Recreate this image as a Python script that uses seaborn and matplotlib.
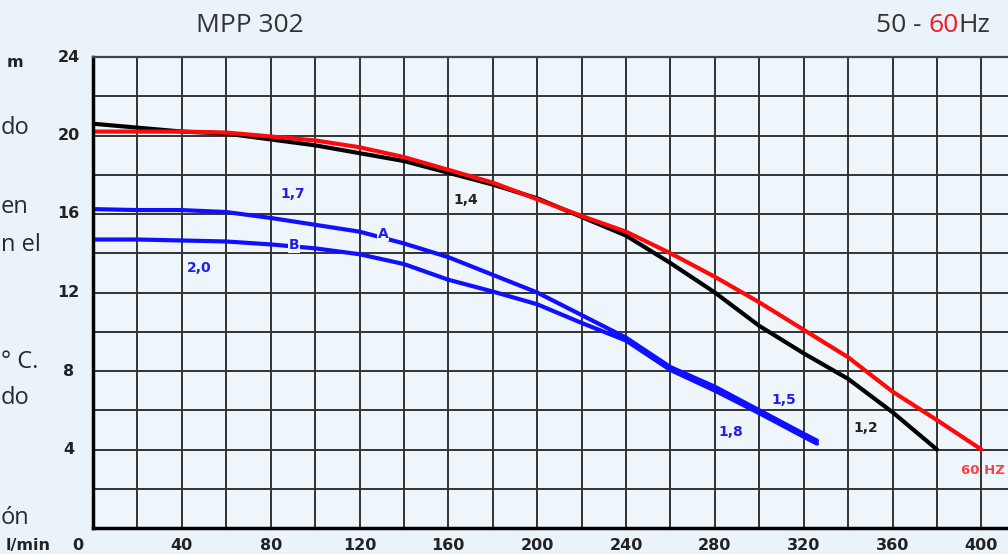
import matplotlib
matplotlib.use("Agg")
import matplotlib.pyplot as plt
import pandas as pd
import seaborn as sns

# Pump curve MPP 302, flow in l/min, head in m
q_50 = [0, 20, 40, 60, 80, 100, 120, 140, 160, 180, 200, 220, 240, 260, 280, 300, 320, 340, 360, 380]
h_50 = [20.6, 20.4, 20.2, 20.1, 19.8, 19.5, 19.1, 18.7, 18.1, 17.5, 16.8, 15.85, 14.9, 13.5, 12.0, 10.3, 8.9, 7.6, 5.9, 4.0]

q_60 = [0, 20, 40, 60, 80, 100, 120, 140, 160, 180, 200, 220, 240, 260, 280, 300, 320, 340, 360, 380, 400]
h_60 = [20.2, 20.2, 20.2, 20.15, 19.95, 19.75, 19.4, 18.9, 18.25, 17.6, 16.75, 15.9, 15.1, 14.0, 12.8, 11.5, 10.1, 8.7, 6.95, 5.5, 4.0]

q_a = [0, 20, 40, 60, 80, 100, 120, 140, 160, 180, 200, 220, 240, 260, 280, 300, 320, 326]
h_a = [16.25, 16.2, 16.2, 16.1, 15.8, 15.45, 15.1, 14.5, 13.8, 12.9, 12.0, 10.85, 9.7, 8.2, 7.2, 6.0, 4.8, 4.45]

q_b = [0, 20, 40, 60, 80, 100, 120, 140, 160, 180, 200, 220, 240, 260, 280, 300, 320, 326]
h_b = [14.7, 14.7, 14.65, 14.6, 14.45, 14.25, 13.95, 13.45, 12.65, 12.05, 11.4, 10.45, 9.55, 8.05, 7.0, 5.85, 4.65, 4.3]

x_ticks = [40, 80, 120, 160, 200, 240, 280, 320, 360, 400]
y_ticks = [4, 8, 12, 16, 20, 24]

# curve annotations: (text, x, y, colour)
curve_labels = [
    ("1,7", 90, 17.0, "#1f1fe6"),
    ("2,0", 48, 13.25, "#1f1fe6"),
    ("1,4", 168, 16.7, "#222222"),
    ("1,5", 311, 6.5, "#1f1fe6"),
    ("1,8", 287, 4.9, "#1f1fe6"),
    ("1,2", 348, 5.1, "#222222"),
]

BG = "#ebf3fa"
AX_BG = "#eef5fb"
TICK_FONT = dict(fontsize=11.5, fontweight="bold", color="#222222",
                 family="DejaVu Sans", clip_on=False)

df = pd.concat([
    pd.DataFrame({"curve": "50", "q": q_50, "h": h_50}),
    pd.DataFrame({"curve": "60", "q": q_60, "h": h_60}),
    pd.DataFrame({"curve": "A", "q": q_a, "h": h_a}),
    pd.DataFrame({"curve": "B", "q": q_b, "h": h_b}),
], ignore_index=True)

sns.set_theme(style="white")
plt.rcParams["font.family"] = ["Liberation Sans", "DejaVu Sans"]

fig = plt.figure(figsize=(10.08, 5.54), dpi=100, facecolor=BG)
ax = fig.add_axes([93 / 1008, 1 - 528 / 554, 1 - 93 / 1008, (528 - 57) / 554])
ax.set_facecolor(AX_BG)

ax.set_xlim(0, 412)
ax.set_ylim(0, 24)
ax.set_xticks(range(0, 420, 20))
ax.set_yticks(range(0, 25, 2))
ax.grid(True, color="#333333", linewidth=1.4)
ax.set_axisbelow(True)

# blue first, then black, red on top (as on the sheet)
palette = {"50": "black", "60": "#ff0a0a", "A": "#1010ff", "B": "#1010ff"}
for group in (["A", "B"], ["50"], ["60"]):
    sns.lineplot(data=df[df.curve.isin(group)], x="q", y="h", hue="curve",
                 palette=palette, sort=False, linewidth=3.0, legend=False, ax=ax)

ax.set_xlabel("")
ax.set_ylabel("")
ax.tick_params(length=0, labelbottom=False, labelleft=False)
for s in ["left", "bottom"]:
    ax.spines[s].set_color("black")
    ax.spines[s].set_linewidth(2.5)
ax.spines["top"].set_color("#444444")
ax.spines["top"].set_linewidth(1.6)
ax.spines["right"].set_visible(False)

# bold tick labels placed like the original sheet
for v in x_ticks:
    ax.text(v, -0.9, str(v), ha="center", va="center", **TICK_FONT)
for v in y_ticks:
    ax.text(-11, v, str(v), ha="center", va="center", **TICK_FONT)
ax.text(-7, -0.9, "0", ha="center", va="center", **TICK_FONT)
ax.text(-29, -0.9, "l/min", ha="center", va="center", **TICK_FONT)
ax.text(-35, 23.7, "m", ha="center", va="center", **TICK_FONT)

for txt, x, y, c in curve_labels:
    ax.text(x, y, txt, ha="center", va="center", fontsize=10,
            fontweight="bold", color=c, family="DejaVu Sans")
for txt, x, y in [("A", 130.5, 15.0), ("B", 90.5, 14.4)]:
    ax.text(x, y, txt, ha="center", va="center", fontsize=10,
            fontweight="bold", color="#1f1fe6", family="DejaVu Sans",
            bbox=dict(facecolor=AX_BG, edgecolor="none", pad=0.6))
ax.text(400.5, 2.95, "60 HZ", ha="center", va="center", fontsize=9.5,
        fontweight="bold", color="#ff4040", family="DejaVu Sans")

# header
fig.text(250 / 1008, 1 - 26 / 554, "MPP 302", ha="center", va="center",
         fontsize=19, color="#333333", family="Open Sans")
hz1 = fig.text(876 / 1008, 1 - 26 / 554, "50 -", ha="left", va="center",
               fontsize=19, color="#333333", family="Open Sans")
hz2 = plt.annotate("60", xy=(1, 0), xycoords=hz1, xytext=(5, 0),
                   textcoords="offset points", ha="left", va="bottom",
                   fontsize=19, color="#ee1c24", family="Open Sans")
plt.annotate("Hz", xy=(1, 0), xycoords=hz2, ha="left", va="bottom",
             fontsize=19, color="#333333", family="Open Sans")

# cut-off text from the page at the left edge
for txt, y in [("do", 128), ("en", 207), ("n el", 245),
               ("° C.", 362), ("do", 398), ("ón", 518)]:
    fig.text(1 / 1008, 1 - y / 554, txt, ha="left", va="center",
             fontsize=17, color="#2a2a2a", family="Open Sans")

fig.savefig("out.png", dpi=100, facecolor=BG)
